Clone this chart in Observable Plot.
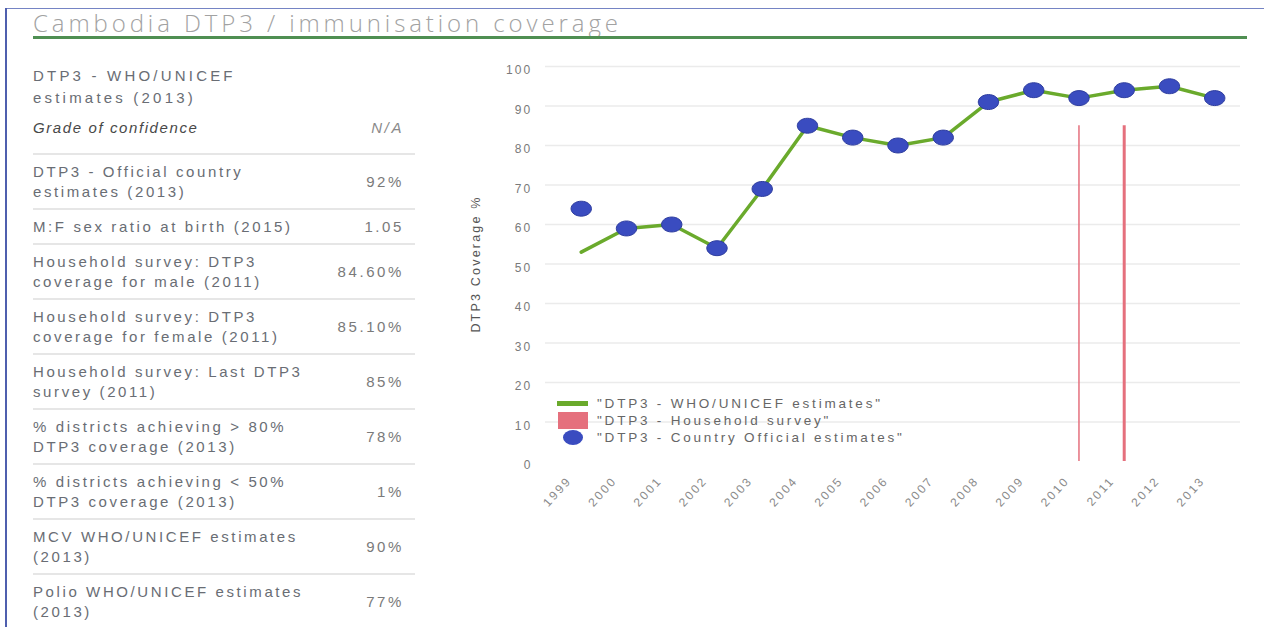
<!DOCTYPE html>
<html>
<head>
<meta charset="utf-8">
<script src="https://cdn.jsdelivr.net/npm/d3@7"></script>
<script src="https://cdn.jsdelivr.net/npm/@observablehq/plot@0.6"></script>
<style>
  html, body { margin: 0; padding: 0; background: #fff; }
  body { width: 1264px; height: 627px; position: relative; overflow: hidden; font-family: "Liberation Sans", Arial, sans-serif; }
  #frameTop { position: absolute; left: 6px; top: 8px; width: 1258px; height: 0; border-top: 1.5px solid #7584c4; }
  #frameLeft { position: absolute; left: 5px; top: 8px; width: 0; height: 619px; border-left: 2px solid #4f5fae; }
  #title { position: absolute; left: 33px; top: 7px; font-family: "Open Sans", sans-serif; font-weight: 300; font-size: 24px; letter-spacing: 3.9px; color: #a2a2a2; line-height: 32px; white-space: nowrap; }
  #underline { position: absolute; left: 33px; top: 36px; width: 1214px; height: 3px; background: #4f8f52; }
  #table { position: absolute; left: 33px; top: 65px; width: 382px; font-size: 15px; letter-spacing: 2.6px; color: #696d74; }
  #table .head { line-height: 22px; letter-spacing: 3.2px; }
  #table .row { display: flex; align-items: center; justify-content: space-between; padding: 7px 0 6px 0; border-bottom: 2px solid #e6e6e6; line-height: 20px; }
  #table .row.grade { margin-top: 8px; padding: 0 0 14px 0; line-height: 22px; }
  #table .grade .lab { font-style: italic; color: #484848; letter-spacing: 1.6px; }
  #table .grade .val { font-style: italic; color: #8a8a8a; }
  #table .row:last-child { border-bottom: none; }
  #table .val { padding-right: 11px; color: #7a7a7a; white-space: nowrap; }
  #table .lab { white-space: pre-line; }
  #chart { position: absolute; left: 455px; top: 50px; }
  #legend { position: absolute; left: 557px; top: 395px; font-size: 13.5px; letter-spacing: 2.8px; color: #666; }
  #legend .item { display: flex; align-items: center; height: 17px; }
  #legend .sw { width: 31px; display: flex; justify-content: center; align-items: center; margin-right: 9px; }
</style>
</head>
<body>
<div id="frameTop"></div>
<div id="frameLeft"></div>
<div id="title"></div>
<div id="underline"></div>
<div id="table"></div>
<div id="chart"></div>
<div id="legend"></div>
<script>
// ---- data ----
const titleText = "Cambodia DTP3 / immunisation coverage";
const tableHeader = ["DTP3 - WHO/UNICEF", "estimates (2013)"];
const gradeLabel = "Grade of confidence";
const gradeValue = "N/A";
const rowLabels = [
  "DTP3 - Official country\nestimates (2013)",
  "M:F sex ratio at birth (2015)",
  "Household survey: DTP3\ncoverage for male (2011)",
  "Household survey: DTP3\ncoverage for female (2011)",
  "Household survey: Last DTP3\nsurvey (2011)",
  "% districts achieving > 80%\nDTP3 coverage (2013)",
  "% districts achieving < 50%\nDTP3 coverage (2013)",
  "MCV WHO/UNICEF estimates\n(2013)",
  "Polio WHO/UNICEF estimates\n(2013)"
];
const rowValues = ["92%", "1.05", "84.60%", "85.10%", "85%", "78%", "1%", "90%", "77%"];

const years = [1999, 2000, 2001, 2002, 2003, 2004, 2005, 2006, 2007, 2008, 2009, 2010, 2011, 2012, 2013];
const whoUnicef = [53, 59, 60, 54, 69, 85, 82, 80, 82, 91, 94, 92, 94, 95, 92];
const official = [64, 59, 60, 54, 69, 85, 82, 80, 82, 91, 94, 92, 94, 95, 92];
const surveyYears = [2010, 2011];
const surveyValues = [85, 85];
const yTicks = [0, 10, 20, 30, 40, 50, 60, 70, 80, 90, 100];
const yLabel = "DTP3 Coverage %";
const legendLabels = ['"DTP3 - WHO/UNICEF estimates"', '"DTP3 - Household survey"', '"DTP3 - Country Official estimates"'];

// ---- colours ----
const green = "#6aaa2c", red = "#e5707d", blue = "#3a4cc0";

// ---- header + table ----
document.getElementById("title").textContent = titleText;
const table = document.getElementById("table");
const head = document.createElement("div");
head.className = "head";
head.innerHTML = tableHeader.map(t => `<div>${t}</div>`).join("");
table.appendChild(head);
function addRow(label, value, cls) {
  const r = document.createElement("div");
  r.className = "row" + (cls ? " " + cls : "");
  const l = document.createElement("div"); l.className = "lab"; l.textContent = label;
  const v = document.createElement("div"); v.className = "val"; v.textContent = value;
  r.appendChild(l); r.appendChild(v);
  table.appendChild(r);
}
addRow(gradeLabel, gradeValue, "grade");
rowLabels.forEach((l, i) => addRow(l, rowValues[i]));

// ---- chart ----
const data = years.map((year, i) => ({year, who: whoUnicef[i], official: official[i]}));
const survey = surveyYears.map((year, i) => ({year, value: surveyValues[i]}));

const ellipse = {
  draw(ctx, size) {
    const r = Math.sqrt(size / Math.PI), rx = r * 1.2, ry = r * 0.88, k = 0.5523;
    ctx.moveTo(rx, 0);
    ctx.bezierCurveTo(rx, k * ry, k * rx, ry, 0, ry);
    ctx.bezierCurveTo(-k * rx, ry, -rx, k * ry, -rx, 0);
    ctx.bezierCurveTo(-rx, -k * ry, -k * rx, -ry, 0, -ry);
    ctx.bezierCurveTo(k * rx, -ry, rx, -k * ry, rx, 0);
    ctx.closePath();
  }
};

const chart = Plot.plot({
  width: 800,
  height: 471,
  marginLeft: 90,
  marginRight: 15,
  marginTop: 16,
  marginBottom: 60,
  x: {domain: [1998.21, 2013.57], axis: null},
  y: {domain: [0, 100], axis: null},
  style: {fontFamily: "'Liberation Sans', Arial, sans-serif", fontSize: "12px", letterSpacing: "2.2px", color: "#7a7a7a", background: "transparent", overflow: "visible"},
  marks: [
    Plot.ruleY(yTicks.filter(d => d > 0), {y: d => d, stroke: "#ebebeb", strokeWidth: 1.5}),
    Plot.text(yTicks, {y: d => d, text: d => String(d), frameAnchor: "left", textAnchor: "end", dx: -13, dy: 4, fill: "#7a7a7a"}),
    Plot.text(years, {x: d => d, y: 0, text: d => String(d), rotate: -48, textAnchor: "end", dx: -12, dy: 17, fill: "#8a8a8a"}),
    Plot.text([yLabel], {text: d => d, frameAnchor: "left", textAnchor: "middle", rotate: -90, dx: -70, fill: "#555", fontSize: 12.5}),
    Plot.ruleX(survey, {x: "year", y1: 0, y2: "value", stroke: red, strokeWidth: d => d.year === 2011 ? 3 : 1.5}),
    Plot.line(data, {x: "year", y: "who", stroke: green, strokeWidth: 3.5}),
    Plot.dot(data, {x: "year", y: "official", r: 8.5, symbol: ellipse, fill: blue, stroke: "#2e3d9e", strokeWidth: 1})
  ]
});
document.getElementById("chart").appendChild(chart);

// ---- legend ----
const legend = document.getElementById("legend");
const swatches = [
  `<div style="width:31px;height:5px;background:${green}"></div>`,
  `<div style="width:30px;height:17px;background:${red}"></div>`,
  `<div style="width:20px;height:15px;border-radius:50%;background:${blue}"></div>`
];
legendLabels.forEach((t, i) => {
  const it = document.createElement("div");
  it.className = "item";
  it.innerHTML = `<div class="sw">${swatches[i]}</div><div></div>`;
  it.lastChild.textContent = t;
  legend.appendChild(it);
});
</script>
</body>
</html>
